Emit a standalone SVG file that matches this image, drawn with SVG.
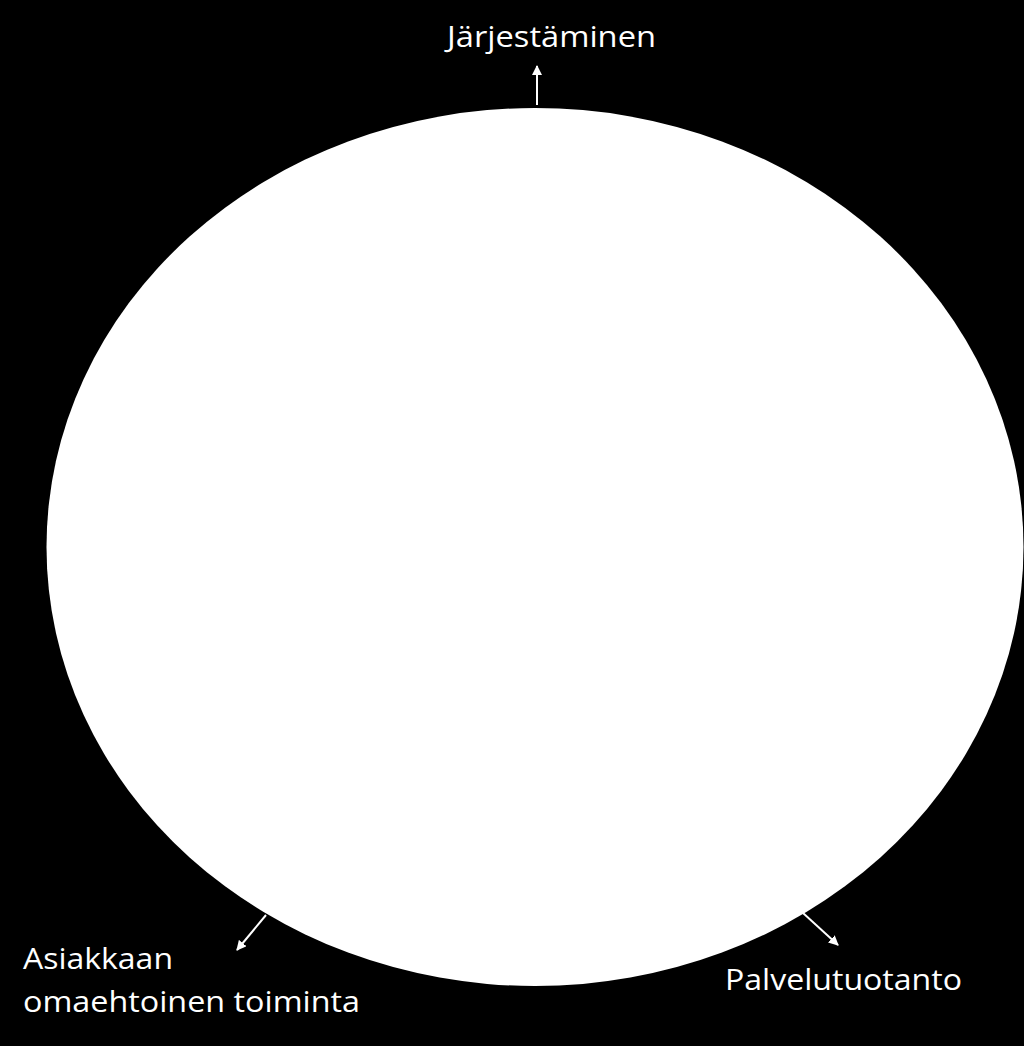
<svg xmlns="http://www.w3.org/2000/svg" width="1024" height="1046" viewBox="0 0 1024 1046">
<style>
.lbl{font-family:"Open Sans","Liberation Sans",sans-serif;font-size:29px;fill:#fff}
.con{stroke:#fff;stroke-width:2;fill:none}
</style>
<defs>
<marker id="ah" viewBox="0 0 10 10" refX="9" refY="5" markerWidth="5" markerHeight="5" orient="auto" markerUnits="strokeWidth"><path d="M0,0 L10,5 L0,10 z" fill="#fff"/></marker>
</defs>
<rect width="1024" height="1046" fill="#000"/>
<g id="circle"><ellipse cx="535" cy="547" rx="488.5" ry="439" fill="#fff"/></g>
<g id="connectors">
<line class="con" x1="537" y1="105" x2="537" y2="66" marker-end="url(#ah)"/>
<line class="con" x1="266" y1="915" x2="237" y2="950" marker-end="url(#ah)"/>
<line class="con" x1="803" y1="913" x2="838" y2="945" marker-end="url(#ah)"/>
</g>
<g id="n1"><text class="lbl" x="447" y="47" textLength="209" lengthAdjust="spacingAndGlyphs">Järjestäminen</text></g>
<g id="n2"><text class="lbl" x="23" y="969" textLength="150" lengthAdjust="spacingAndGlyphs">Asiakkaan</text><text class="lbl" x="23" y="1012" textLength="337" lengthAdjust="spacingAndGlyphs">omaehtoinen toiminta</text></g>
<g id="n3"><text class="lbl" x="725" y="990" textLength="237" lengthAdjust="spacingAndGlyphs">Palvelutuotanto</text></g>
</svg>
